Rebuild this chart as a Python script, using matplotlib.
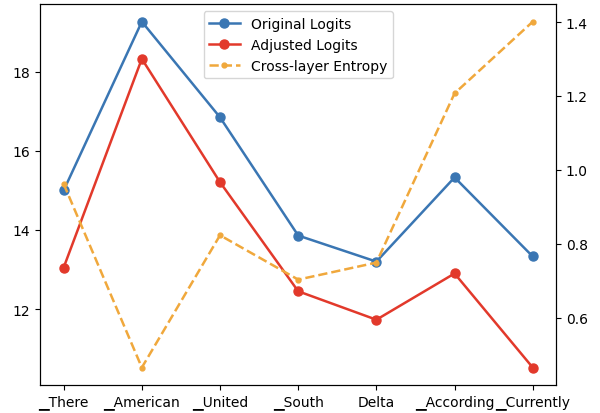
import numpy as np
from matplotlib import pyplot as plt

tokens = ["▁There", "▁American", "▁United", "▁South", "Delta", "▁According", "▁Currently"]
original = [15.0, 19.27, 16.85, 13.86, 13.20, 15.33, 13.33]
adjusted = [13.05, 18.33, 15.21, 12.45, 11.73, 12.90, 10.52]
entropy = [0.962, 0.465, 0.823, 0.703, 0.749, 1.207, 1.401]

x = np.arange(len(tokens))

fig, ax = plt.subplots(figsize=(6, 4.14), dpi=100)
ax2 = ax.twinx()

l1, = ax.plot(x, original, '-o', color='#3a76b3', lw=1.8, ms=6.5, label='Original Logits')
l2, = ax.plot(x, adjusted, '-o', color='#e2392b', lw=1.8, ms=6.5, label='Adjusted Logits')
l3, = ax2.plot(x, entropy, '--.', color='#f0a83c', lw=1.8, ms=7, label='Cross-layer Entropy')

ax.set_xticks(x)
ax.set_xticklabels(tokens)
ax.set_yticks([12, 14, 16, 18])
ax2.set_yticks([0.6, 0.8, 1.0, 1.2, 1.4])

ax.legend(handles=[l1, l2, l3], loc='upper center', fontsize=10, handlelength=2.2)

fig.subplots_adjust(left=0.067, right=0.927, top=0.987, bottom=0.068)
fig.savefig('out.png')
